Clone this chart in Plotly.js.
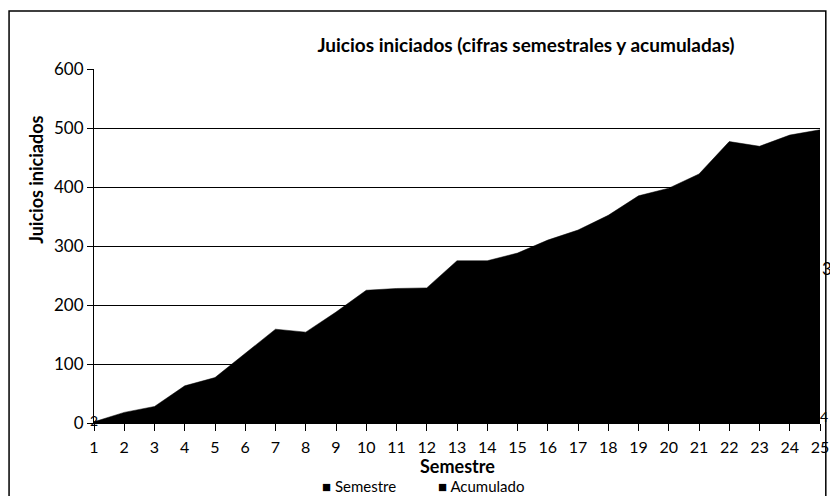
<!DOCTYPE html>
<html>
<head>
<meta charset="utf-8">
<script src="https://cdn.plot.ly/plotly-3.0.1.min.js"></script>
<style>html,body{margin:0;padding:0;background:#fff;}#chart{width:830px;height:496px;}</style>
</head>
<body>
<div id="chart"></div>
<script>
const semestres = [1,2,3,4,5,6,7,8,9,10,11,12,13,14,15,16,17,18,19,20,21,22,23,24,25];
const semestre = [2,9,10,12,16,14,13,18,12,11,14,9,13,17,17,15,16,13,12,11,12,14,15,16,14];
const acumulado = [2,18,28,63,77,118,159,154,188,225,228,229,275,275,288,310,327,352,385,398,422,477,469,488,497];
const yTicks = [0,100,200,300,400,500,600];
const labelAcumuladoUltimo = "378";
const seriesNames = ["Semestre", "Acumulado"];

const FONT = "Lato, 'Open Sans', sans-serif";

const data = [
  {
    x: semestres, y: semestre, name: seriesNames[0], type: "scatter", mode: "lines",
    fill: "tozeroy", fillcolor: "#000", line: {color: "#000", width: 0.5}, showlegend: false
  },
  {
    x: semestres, y: acumulado, name: seriesNames[1], type: "scatter", mode: "lines",
    fill: "tozeroy", fillcolor: "#000", line: {color: "#000", width: 0.5}, showlegend: false
  },
  {
    x: semestres, y: semestre.map(v => v / 2), text: semestre.map(String),
    type: "scatter", mode: "text", textposition: "middle center",
    textfont: {family: FONT, size: 14, color: "#000"}, showlegend: false,
    cliponaxis: false, hoverinfo: "skip"
  }
];

const layout = {
  width: 830, height: 496,
  margin: {l: 94, r: 10, t: 69, b: 73},
  paper_bgcolor: "#fff", plot_bgcolor: "#fff",
  font: {family: FONT, color: "#000", size: 16},
  showlegend: false,
  title: {
    text: "<b>Juicios iniciados (cifras semestrales y acumuladas)</b>",
    font: {family: FONT, size: 19, color: "#000"},
    x: 0.595, xref: "paper", xanchor: "center", y: 0.909, yref: "container", yanchor: "middle"
  },
  xaxis: {
    range: [1, 25], tickmode: "array", tickvals: semestres, ticktext: semestres.map(String),
    showgrid: false, zeroline: false, showline: true, linecolor: "#000", linewidth: 1,
    ticks: "outside", ticklen: 7, tickcolor: "#000", ticklabelstandoff: 3,
    tickfont: {family: FONT, size: 16, color: "#000"}
  },
  yaxis: {
    range: [0, 600], tickmode: "array", tickvals: yTicks, ticktext: yTicks.map(String),
    showgrid: true, gridcolor: "#000", gridwidth: 1, zeroline: false,
    showline: true, linecolor: "#000", linewidth: 1, ticks: "outside", ticklen: 6, tickcolor: "#000",
    tickfont: {family: FONT, size: 17, color: "#000"}
  },
  annotations: [
    {text: "<b>Juicios iniciados</b>", xref: "paper", yref: "paper", x: -0.079, y: 0.686,
     xanchor: "center", yanchor: "middle",
     textangle: -90, showarrow: false, font: {family: FONT, size: 18, color: "#000"}},
    {text: "<b>Semestre</b>", xref: "paper", yref: "paper", x: 0.5, y: (423 - 466) / 354,
     showarrow: false, xanchor: "center", yanchor: "middle", font: {family: FONT, size: 18, color: "#000"}},
    {text: "■ " + seriesNames[0], xref: "paper", yref: "paper", x: (320 - 94) / 726, y: (423 - 486) / 354,
     xanchor: "left", yanchor: "middle", showarrow: false, font: {family: FONT, size: 15, color: "#000"}},
    {text: "■ " + seriesNames[1], xref: "paper", yref: "paper", x: (436 - 94) / 726, y: (423 - 486) / 354,
     xanchor: "left", yanchor: "middle", showarrow: false, font: {family: FONT, size: 15, color: "#000"}},
    {text: labelAcumuladoUltimo, xref: "x", yref: "y", x: 25, y: 262, xanchor: "left", xshift: 0,
     showarrow: false, font: {family: FONT, size: 17, color: "#000"}}
  ],
  shapes: [
    {type: "rect", xref: "paper", yref: "paper", x0: -0.117, x1: 1.008, y0: -0.3, y1: 1.164,
     line: {color: "#000", width: 1.5}, fillcolor: "rgba(0,0,0,0)", layer: "below"}
  ]
};

Plotly.newPlot("chart", data, layout, {displayModeBar: false, staticPlot: true});
</script>
</body>
</html>
